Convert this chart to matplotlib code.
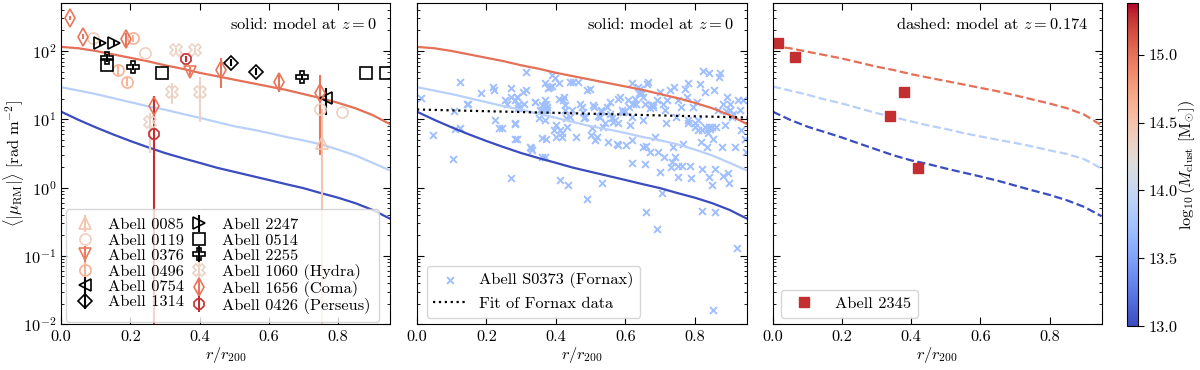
import numpy as np
import matplotlib
matplotlib.use('Agg')
import matplotlib.pyplot as plt
from matplotlib import colors, cm

######################## DATA ############################
# model profiles (r / r200 grid)
r_model = [0.00, 0.05, 0.10, 0.15, 0.20, 0.25, 0.30, 0.35, 0.40, 0.45,
           0.50, 0.55, 0.60, 0.65, 0.70, 0.75, 0.80, 0.85, 0.90, 0.95]
model_masses = [13.0, 13.9, 15.0]

# solid: model at z = 0
rm_z0_lo = [12.9, 9.8, 7.6, 6.0, 4.8, 3.9, 3.2, 2.7, 2.3, 1.95,
            1.70, 1.48, 1.29, 1.12, 0.98, 0.83, 0.71, 0.59, 0.47, 0.35]
rm_z0_mid = [29.5, 26.3, 23.4, 20.4, 17.8, 15.5, 13.8, 12.0, 10.5, 9.1,
             7.9, 7.1, 6.3, 5.5, 4.9, 4.3, 3.6, 2.95, 2.3, 1.78]
rm_z0_hi = [114.8, 109.6, 100.0, 89.1, 79.4, 70.8, 61.7, 55.0, 47.9, 42.7,
            38.0, 33.9, 30.2, 26.9, 23.4, 20.4, 17.4, 14.5, 11.5, 8.5]

# dashed: model at z = 0.174
rm_z174_lo = [12.9, 9.8, 7.8, 6.5, 5.4, 4.4, 3.6, 2.95, 2.5, 2.2,
              1.9, 1.66, 1.45, 1.26, 1.07, 0.91, 0.78, 0.65, 0.52, 0.38]
rm_z174_mid = [30.2, 26.3, 22.9, 19.5, 17.0, 14.5, 12.3, 10.7, 9.3, 8.1,
               7.2, 6.3, 5.6, 5.0, 4.5, 4.0, 3.5, 3.1, 2.6, 1.9]
rm_z174_hi = [117.5, 109.6, 97.7, 87.1, 77.6, 67.6, 58.9, 52.5, 45.7, 40.7,
              36.3, 32.4, 28.8, 25.7, 22.4, 19.5, 17.0, 14.5, 11.7, 8.1]

# observed clusters: r, <|RM|>, lower bound, upper bound
a0085_r, a0085_rm, a0085_lo, a0085_hi = [0.754], [4.5], [1e-3], [14.0]
a0119_r, a0119_rm = [0.093, 0.242, 0.747, 0.810], [153, 92.5, 14.0, 12.9]
a0376_r, a0376_rm, a0376_lo, a0376_hi = [0.371], [50], [40], [59]
a0496_r, a0496_rm = [0.163, 0.189, 0.208], [52.5, 35.6, 153]
a0496_lo, a0496_hi = [45, 31, 135], [62, 41, 172]
a0754_r, a0754_rm, a0754_lo, a0754_hi = [0.766], [20.3], [11.6], [29]
a1314_r, a1314_rm = [0.491, 0.563], [67.6, 50]
a1314_lo, a1314_hi = [60, 44], [76, 57]
a2247_r, a2247_rm = [0.112, 0.153], [130, 132]
a2247_lo, a2247_hi = [118, 120], [143, 145]
a0514_r, a0514_rm = [0.131, 0.290, 0.881, 0.937], [62, 47, 48, 47]
a2255_r, a2255_rm = [0.131, 0.208, 0.697], [78, 59, 42]
a2255_lo, a2255_hi = [68, 53, 38], [90, 65, 46]
a1060_r, a1060_rm = [0.256, 0.319, 0.333, 0.386, 0.400], [9.2, 25, 103, 103, 25]
a1060_lo, a1060_hi = [3.2, 17, 95, 95, 9.2], [12.4, 34, 112, 112, 42]
a1656_r = [0.026, 0.064, 0.187, 0.268, 0.462, 0.628, 0.747]
a1656_rm = [301, 162, 148, 15.7, 52.6, 35.6, 24]
a1656_lo = [280, 150, 110, 9.0, 28.5, 25, 3.0]
a1656_hi = [325, 175, 186, 21.5, 79, 44.5, 44.6]
a0426_r, a0426_rm, a0426_lo, a0426_hi = [0.268, 0.362], [6.1, 75.5], [1e-3, 68], [22, 84]

# Fornax (Abell S0373) sources
fornax_r = [0.011, 0.045, 0.105, 0.106, 0.109, 0.124, 0.124, 0.148, 0.143, 0.184,
            0.218, 0.222, 0.224, 0.237, 0.253, 0.258, 0.270, 0.271, 0.283, 0.282,
            0.287, 0.292, 0.296, 0.308, 0.313, 0.314, 0.325, 0.330, 0.340, 0.354,
            0.368, 0.371, 0.373, 0.373, 0.378, 0.383, 0.388, 0.398, 0.412, 0.412,
            0.416, 0.418, 0.421, 0.423, 0.426, 0.435, 0.440, 0.445, 0.450, 0.459,
            0.464, 0.474, 0.479, 0.483, 0.488, 0.498, 0.503, 0.507, 0.512, 0.517,
            0.527, 0.531, 0.534, 0.536, 0.546, 0.555, 0.560, 0.565, 0.575, 0.579,
            0.584, 0.589, 0.594, 0.603, 0.608, 0.613, 0.618, 0.623, 0.627, 0.637,
            0.642, 0.647, 0.651, 0.656, 0.651, 0.656, 0.659, 0.661, 0.666, 0.671,
            0.675, 0.680, 0.685, 0.690, 0.692, 0.694, 0.699, 0.704, 0.709, 0.714,
            0.718, 0.728, 0.733, 0.738, 0.742, 0.747, 0.752, 0.762, 0.766, 0.771,
            0.776, 0.781, 0.786, 0.790, 0.795, 0.800, 0.805, 0.810, 0.814, 0.819,
            0.824, 0.829, 0.834, 0.838, 0.843, 0.848, 0.853, 0.856, 0.858, 0.858,
            0.853, 0.862, 0.867, 0.870, 0.872, 0.877, 0.882, 0.886, 0.891, 0.896,
            0.898, 0.901, 0.906, 0.910, 0.915, 0.920, 0.925, 0.929, 0.934, 0.939,
            0.944, 0.947, 0.270, 0.282, 0.288, 0.290, 0.306, 0.246, 0.282, 0.287,
            0.340, 0.350, 0.327, 0.360, 0.364, 0.368, 0.370, 0.368, 0.360, 0.360,
            0.368, 0.390, 0.395, 0.400, 0.400, 0.410, 0.410, 0.425, 0.430, 0.433,
            0.440, 0.469, 0.490, 0.480, 0.500, 0.510, 0.520, 0.530, 0.540, 0.550,
            0.555, 0.570, 0.580, 0.580, 0.600, 0.610, 0.620, 0.620, 0.620, 0.630,
            0.640, 0.650, 0.660, 0.840, 0.830, 0.700, 0.740, 0.780, 0.680, 0.720,
            0.760, 0.780, 0.800, 0.810, 0.820, 0.840, 0.880, 0.890, 0.900, 0.670,
            0.710, 0.730, 0.750, 0.750, 0.820, 0.840, 0.850, 0.820]
fornax_rm = [20.6, 5.8, 2.6, 13.0, 7.3, 7.5, 35, 17, 16.5, 24,
             30, 27, 9.7, 7.5, 19, 17, 29, 21, 8.5, 5.1,
             21, 16, 15, 16.5, 50, 27, 3.9, 3.6, 18, 13.6,
             2.8, 5.2, 13.6, 15, 29, 30, 31, 40, 1.3, 6.9,
             6.2, 5.5, 19, 21, 13.6, 1.1, 10.8, 13.6, 35, 5.5,
             35, 15, 12.8, 10.8, 0.69, 28, 7.5, 16, 5.0, 5.5,
             10.8, 13.6, 1.15, 7.7, 15, 12.1, 10.3, 9.2, 4.4, 8.7,
             21, 13.6, 12.8, 4.2, 19, 8.2, 10.8, 17, 20, 30,
             28, 24, 21, 17, 3.9, 2.2, 0.44, 33, 35, 14.4,
             16, 15, 5.5, 19, 0.25, 3.3, 1.7, 0.82, 17, 13.6,
             8.7, 27, 2.4, 3.9, 2.8, 10.8, 19, 2.1, 4.4, 28,
             21, 8.7, 2.1, 1.4, 15, 7.7, 18, 9.7, 33, 4.7,
             51, 7.7, 3.9, 6.2, 7.3, 7.7, 5.2, 27, 1.9, 0.44,
             0.016, 7.7, 13.6, 42, 47, 3.9, 1.5, 8.2, 21, 1.65,
             1.15, 17, 10.8, 12.1, 3.9, 0.13, 19, 13.6, 6.9, 19,
             5.2, 3.3, 1.4, 19, 21, 14.5, 25, 7.4, 8.7, 5.1,
             18, 10.3, 3.8, 16, 13.5, 19, 17, 9.8, 5.3, 2.8,
             34, 44, 6.9, 5.5, 8.2, 34, 20, 16, 10.4, 7.8,
             35, 17, 27, 10.4, 5.9, 15, 11, 13, 8.7, 4.7,
             18, 9.8, 4.2, 20, 13, 15, 4.9, 2.3, 34, 17,
             24, 9.8, 4.0, 47, 25, 25, 30, 34, 16, 19,
             15, 9.8, 8.7, 6.9, 6.9, 7.8, 17, 13, 13.5, 3.3,
             2.8, 2.0, 2.1, 1.44, 1.9, 1.44, 1.1, 0.45]
fornax_mass = 13.72
fit_r = [0.0, 0.95]
fit_rm = [13.9, 10.6]

# Abell 2345 (z = 0.174)
a2345_r = [0.015, 0.063, 0.339, 0.378, 0.420]
a2345_rm = [129, 81, 11.0, 24.9, 1.95]
a2345_mass = 15.28

######################## STYLE ############################
plt.rcParams.update({
    'font.family': 'serif',
    'font.serif': ['cmr10'],
    'mathtext.fontset': 'cm',
    'axes.formatter.use_mathtext': True,
    'font.size': 11.8,
    'xtick.direction': 'in',
    'ytick.direction': 'in',
    'xtick.top': True,
    'ytick.right': True,
    'xtick.major.size': 5,
    'ytick.major.size': 5,
    'ytick.minor.size': 2.5,
    'xtick.major.pad': 4.5,
})

cmap = plt.get_cmap('coolwarm')
norm = colors.Normalize(vmin=13.0, vmax=15.38)

fig = plt.figure(figsize=(12, 3.7), dpi=100)
ax1 = fig.add_axes([0.051, 0.124, 0.274, 0.868])
ax2 = fig.add_axes([0.3475, 0.124, 0.275, 0.868])
ax3 = fig.add_axes([0.644, 0.124, 0.274, 0.868])
cax = fig.add_axes([0.939, 0.118, 0.0092, 0.874])

model_lines = [rm_z0_lo, rm_z0_mid, rm_z0_hi]
model_lines_z = [rm_z174_lo, rm_z174_mid, rm_z174_hi]

######################## LEFT PANEL ############################
clusters = [
    ('Abell 0085', a0085_r, a0085_rm, a0085_lo, a0085_hi, '^', 14.48, 8),
    ('Abell 0119', a0119_r, a0119_rm, None, None, 'o', 14.38, 8),
    ('Abell 0376', a0376_r, a0376_rm, a0376_lo, a0376_hi, 'v', 14.95, 8),
    ('Abell 0496', a0496_r, a0496_rm, a0496_lo, a0496_hi, 'o', 14.62, 8),
    ('Abell 0754', a0754_r, a0754_rm, a0754_lo, a0754_hi, '<', None, 8),
    ('Abell 1314', a1314_r, a1314_rm, a1314_lo, a1314_hi, 'D', None, 7),
    ('Abell 2247', a2247_r, a2247_rm, a2247_lo, a2247_hi, '>', None, 8),
    ('Abell 0514', a0514_r, a0514_rm, None, None, 's', None, 8),
    ('Abell 2255', a2255_r, a2255_rm, a2255_lo, a2255_hi, 'P', None, 8),
    ('Abell 1060 (Hydra)', a1060_r, a1060_rm, a1060_lo, a1060_hi, 'X', 14.33, 8),
    ('Abell 1656 (Coma)', a1656_r, a1656_rm, a1656_lo, a1656_hi, 'd', 14.98, 9),
    ('Abell 0426 (Perseus)', a0426_r, a0426_rm, a0426_lo, a0426_hi, '8', 15.28, 8),
]

for r, rm, m in zip([r_model] * 3, model_lines, model_masses):
    ax1.plot(r, rm, color=cmap(norm(m)), lw=1.6)

for name, r, rm, lo, hi, mk, mass, ms in clusters:
    col = 'k' if mass is None else cmap(norm(mass))
    if lo is not None:
        yerr = [np.array(rm) - np.array(lo), np.array(hi) - np.array(rm)]
    else:
        yerr = None
    ax1.errorbar(r, rm, yerr=yerr, fmt=mk, ms=ms, mfc='none', mec=col,
                 mew=1.2, ecolor=col, elinewidth=1.5, capsize=0, label=name)

ax1.set_ylabel(r'$\langle|\mu_{\rm RM}|\rangle\ [{\rm rad\ m^{-2}}]$')
ax1.yaxis.set_label_coords(-0.106, 0.5)
ax1.legend(loc='lower left', bbox_to_anchor=(0.015, 0.006), borderaxespad=0,
           ncol=2, labelspacing=0.06, borderpad=0.5,
           columnspacing=0.23, handlelength=1.3, handletextpad=0.78)
ax1.text(0.96, 0.96, r'solid: model at $z=0$', transform=ax1.transAxes,
         ha='right', va='top')

######################## MIDDLE PANEL ############################
for r, rm, m in zip([r_model] * 3, model_lines, model_masses):
    ax2.plot(r, rm, color=cmap(norm(m)), lw=1.6)
ax2.scatter(fornax_r, fornax_rm, marker='x', s=24, linewidths=1.4,
            color=cmap(norm(fornax_mass)), label='Abell S0373 (Fornax)', zorder=1)
ax2.plot(fit_r, fit_rm, color='k', ls=':', lw=1.6, label='Fit of Fornax data')
ax2.legend(loc='lower left', scatterpoints=1, bbox_to_anchor=(0.03, 0.02),
           borderaxespad=0)
ax2.text(0.96, 0.96, r'solid: model at $z=0$', transform=ax2.transAxes,
         ha='right', va='top')

######################## RIGHT PANEL ############################
for r, rm, m in zip([r_model] * 3, model_lines_z, model_masses):
    ax3.plot(r, rm, color=cmap(norm(m)), lw=1.6, ls='--')
ax3.plot(a2345_r, a2345_rm, ls='none', marker='s', ms=7,
         color=cmap(norm(a2345_mass)), label='Abell 2345')
ax3.legend(loc='lower left', bbox_to_anchor=(0.025, 0.02), borderaxespad=0,
           handlelength=2.0, handletextpad=0.9)
ax3.text(0.96, 0.96, r'dashed: model at $z=0.174$', transform=ax3.transAxes,
         ha='right', va='top')

for ax in [ax1, ax2, ax3]:
    ax.set_yscale('log')
    ax.set_ylim(1e-2, 505)
    ax.set_xlim(0, 0.95)
    ax.set_xticks([0.0, 0.2, 0.4, 0.6, 0.8])
    ax.set_xticklabels(['0.0', '0.2', '0.4', '0.6', '0.8'])
    ax.set_xlabel(r'$r/r_{200}$', labelpad=1)
    ax.tick_params(which='both', direction='in', top=True, right=True)
for ax in [ax2, ax3]:
    ax.tick_params(labelleft=False)

######################## COLORBAR ############################
cb = fig.colorbar(cm.ScalarMappable(norm=norm, cmap=cmap), cax=cax)
cb.set_ticks([13.0, 13.5, 14.0, 14.5, 15.0])
cb.set_ticklabels(['13.0', '13.5', '14.0', '14.5', '15.0'])
cb.ax.tick_params(direction='out', length=4)
cb.set_label(r'$\log_{10}(M_{\rm clust}\ [{\rm M}_{\odot}])$', labelpad=0)

plt.savefig('out.png', dpi=100)
